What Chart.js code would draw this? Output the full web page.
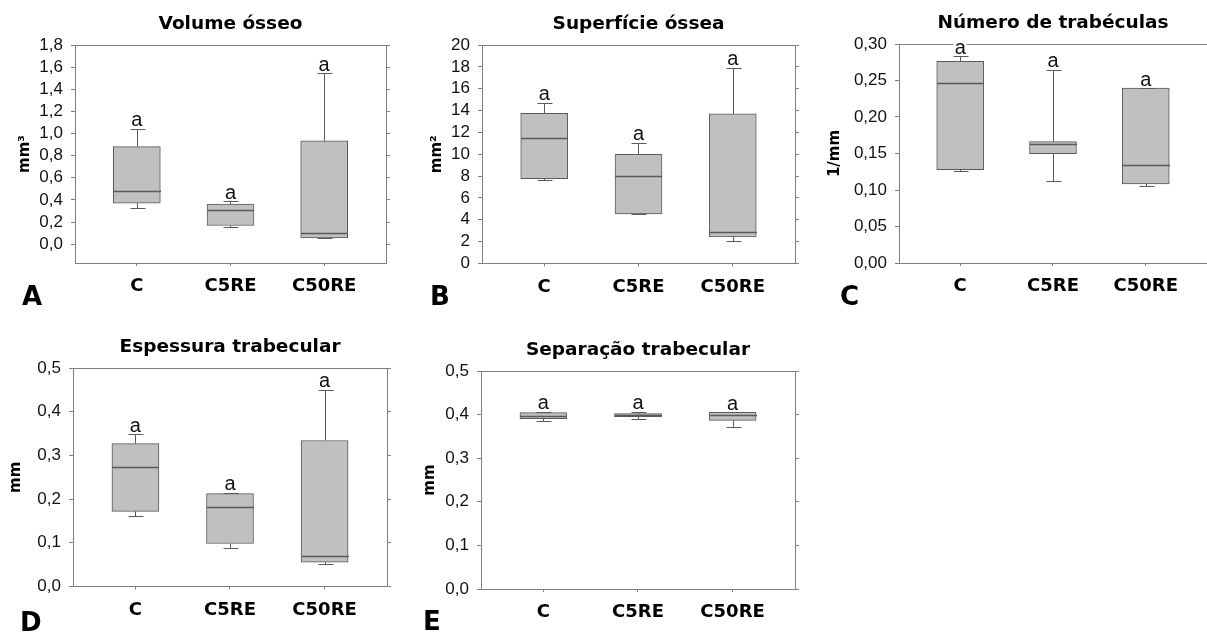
<!DOCTYPE html>
<html>
<head>
<meta charset="utf-8">
<script src="https://cdn.jsdelivr.net/npm/chart.js@4/dist/chart.umd.min.js"></script>
<style>
  html, body { margin: 0; padding: 0; background: #fff; }
  body { position: relative; width: 1207px; height: 633px; overflow: hidden; }
  canvas { position: absolute; }
</style>
</head>
<body>
<canvas id="panelA"></canvas>
<canvas id="panelB"></canvas>
<canvas id="panelC"></canvas>
<canvas id="panelD"></canvas>
<canvas id="panelE"></canvas>
<script>
// Groups on every x axis
const categories = ['C', 'C5RE', 'C50RE'];

// Volume ósseo (mm³): five-number summaries per group
const volumeMin    = [0.329, 0.157, 0.054];
const volumeQ1     = [0.371, 0.169, 0.057];
const volumeMedian = [0.483, 0.311, 0.100];
const volumeQ3     = [0.882, 0.362, 0.933];
const volumeMax    = [1.045, 0.390, 1.543];
const volumeLetters = ['a', 'a', 'a'];
const volumeTicks  = [0, 0.2, 0.4, 0.6, 0.8, 1.0, 1.2, 1.4, 1.6, 1.8];

// Superfície óssea (mm²)
const surfaceMin    = [7.62, 4.51, 2.10];
const surfaceQ1     = [7.77, 4.54, 2.44];
const surfaceMedian = [11.52, 8.02, 2.87];
const surfaceQ3     = [13.75, 10.00, 13.69];
const surfaceMax    = [14.73, 11.04, 17.90];
const surfaceLetters = ['a', 'a', 'a'];
const surfaceTicks  = [0, 2, 4, 6, 8, 10, 12, 14, 16, 18, 20];

// Número de trabéculas (1/mm)
const numberMin    = [0.1256, 0.1119, 0.1055];
const numberQ1     = [0.1279, 0.1498, 0.1082];
const numberMedian = [0.2466, 0.1626, 0.1347];
const numberQ3     = [0.2763, 0.1662, 0.2397];
const numberMax    = [0.2830, 0.2648, 0.2397];
const numberLetters = ['a', 'a', 'a'];
const numberTicks  = [0, 0.05, 0.10, 0.15, 0.20, 0.25, 0.30];

// Espessura trabecular (mm)
const thicknessMin    = [0.162, 0.0877, 0.0526];
const thicknessQ1     = [0.172, 0.0983, 0.0556];
const thicknessMedian = [0.274, 0.181, 0.0694];
const thicknessQ3     = [0.327, 0.2127, 0.334];
const thicknessMax    = [0.348, 0.215, 0.4505];
const thicknessLetters = ['a', 'a', 'a'];
const thicknessTicks  = [0, 0.1, 0.2, 0.3, 0.4, 0.5];

// Separação trabecular (mm)
const separationMin    = [0.3846, 0.3907, 0.3716];
const separationQ1     = [0.3908, 0.3953, 0.3869];
const separationMedian = [0.3976, 0.3990, 0.4000];
const separationQ3     = [0.4046, 0.4021, 0.4053];
const separationMax    = [0.4069, 0.4067, 0.4053];
const separationLetters = ['a', 'a', 'a'];
const separationTicks  = [0, 0.1, 0.2, 0.3, 0.4, 0.5];

const FRAME = '#808080';
const BOX_LINE = '#5a5a5a';
const BOX_FILL = '#c0c0c0';

// Panel layout: canvas box and plot frame in page pixels
const panels = [
  { id: 'panelA', letter: 'A', title: 'Volume ósseo', unit: 'mm³',
    canvas: [0, 0, 400, 310], frame: [75, 45, 386, 263], yMin: -0.17, yMax: 1.8, decimals: 1,
    yTitleX: 25, letterPos: [22, 305],
    stats: [volumeMin, volumeQ1, volumeMedian, volumeQ3, volumeMax], letters: volumeLetters, ticks: volumeTicks },
  { id: 'panelB', letter: 'B', title: 'Superfície óssea', unit: 'mm²',
    canvas: [400, 0, 400, 310], frame: [482, 45, 795, 263.5], yMin: 0, yMax: 20, decimals: 0,
    yTitleX: 37, letterPos: [430, 305],
    stats: [surfaceMin, surfaceQ1, surfaceMedian, surfaceQ3, surfaceMax], letters: surfaceLetters, ticks: surfaceTicks },
  { id: 'panelC', letter: 'C', title: 'Número de trabéculas', unit: '1/mm',
    canvas: [800, 0, 407, 310], frame: [899, 44, 1207, 263], yMin: 0, yMax: 0.30, decimals: 2,
    yTitleX: 35, letterPos: [840, 305],
    stats: [numberMin, numberQ1, numberMedian, numberQ3, numberMax], letters: numberLetters, ticks: numberTicks },
  { id: 'panelD', letter: 'D', title: 'Espessura trabecular', unit: 'mm',
    canvas: [0, 310, 400, 323], frame: [73, 368, 387, 586.5], yMin: 0, yMax: 0.5, decimals: 1,
    yTitleX: 16, letterPos: [20, 631],
    stats: [thicknessMin, thicknessQ1, thicknessMedian, thicknessQ3, thicknessMax], letters: thicknessLetters, ticks: thicknessTicks },
  { id: 'panelE', letter: 'E', title: 'Separação trabecular', unit: 'mm',
    canvas: [400, 310, 400, 323], frame: [481, 371, 795, 589], yMin: 0, yMax: 0.5, decimals: 1,
    yTitleX: 30, letterPos: [423, 630],
    stats: [separationMin, separationQ1, separationMedian, separationQ3, separationMax], letters: separationLetters, ticks: separationTicks }
];

const crisp = v => Math.round(v) + 0.5;

// Whiskers, caps, medians, group letters, panel title and panel letter
const boxDecor = {
  id: 'boxDecor',
  afterDatasetsDraw(chart, args, opts) {
    const { ctx, scales: { x, y } } = chart;
    const [mins, q1s, meds, q3s, maxs] = opts.stats;
    ctx.save();
    ctx.strokeStyle = BOX_LINE;
    ctx.lineWidth = 1;
    const seg = (x1, y1, x2, y2) => { ctx.beginPath(); ctx.moveTo(x1, y1); ctx.lineTo(x2, y2); ctx.stroke(); };
    categories.forEach((c, i) => {
      const px = crisp(x.getPixelForValue(i + 1));
      const pMin = crisp(y.getPixelForValue(mins[i]));
      const pQ1 = y.getPixelForValue(q1s[i]);
      const pMed = crisp(y.getPixelForValue(meds[i]));
      const pQ3 = y.getPixelForValue(q3s[i]);
      const pMax = crisp(y.getPixelForValue(maxs[i]));
      seg(px, pQ3, px, pMax);
      seg(px, pQ1, px, pMin);
      seg(px - 7, pMax, px + 8, pMax);
      seg(px - 7, pMin, px + 8, pMin);
      const half = opts.boxWidth / 2;
      ctx.lineWidth = 1.3;
      seg(px - half, pMed, px + half, pMed);
      ctx.lineWidth = 1;
    });
    // group letters above the upper whisker
    ctx.font = '20px "Liberation Sans", Arial, sans-serif';
    ctx.textAlign = 'center';
    ctx.textBaseline = 'alphabetic';
    opts.letters.forEach((t, i) => {
      const px = x.getPixelForValue(i + 1);
      const base = y.getPixelForValue(maxs[i]) - 2.5;
      const w = ctx.measureText(t).width;
      ctx.fillStyle = '#fff';
      ctx.fillRect(px - w / 2 - 1, base - 11, w + 2, 11);
      ctx.fillStyle = '#111';
      ctx.fillText(t, px, base);
    });
    ctx.restore();
  },
  afterDraw(chart, args, opts) {
    const { ctx, chartArea } = chart;
    ctx.save();
    ctx.fillStyle = '#000';
    ctx.textBaseline = 'alphabetic';
    ctx.font = 'bold 18.5px "DejaVu Sans", Verdana, sans-serif';
    ctx.textAlign = 'center';
    ctx.fillText(opts.title, (chartArea.left + chartArea.right) / 2, chartArea.top - 16);
    ctx.font = 'bold 26px "DejaVu Sans", Verdana, sans-serif';
    ctx.textAlign = 'left';
    ctx.fillText(opts.letter, opts.letterPos[0], opts.letterPos[1]);
    ctx.restore();
  }
};

panels.forEach(p => {
  const [cl, ct, cw, chh] = p.canvas;
  const [fl, ft, fr, fb] = p.frame;
  const el = document.getElementById(p.id);
  el.width = cw; el.height = chh;
  el.style.left = cl + 'px'; el.style.top = ct + 'px';
  el.style.width = cw + 'px'; el.style.height = chh + 'px';

  const [mins, q1s, meds, q3s, maxs] = p.stats;
  const leftW = fl - cl, rightW = Math.max(0, cl + cw - fr), bottomH = ct + chh - fb, topPad = ft - ct;
  const fmt = v => Number(v).toFixed(p.decimals).replace('.', ',');
  const tickList = s => { s.ticks = p.ticks.map(v => ({ value: v })); };
  const xRange = { min: 0.34, max: 3.66, offset: false };
  const titleFont = { family: '"DejaVu Sans", Verdana, sans-serif', weight: 'bold', size: 15, lineHeight: 1.2 };

  new Chart(el, {
    type: 'bar',
    data: {
      datasets: [{
        data: categories.map((c, i) => ({ x: i + 1, y: [q1s[i], q3s[i]] })),
        backgroundColor: BOX_FILL,
        borderColor: BOX_LINE,
        borderWidth: 1,
        borderSkipped: false,
        barThickness: 47
      }]
    },
    options: {
      responsive: false,
      animation: false,
      devicePixelRatio: 1,
      layout: { padding: { top: topPad, left: 0, right: 0, bottom: 0 } },
      plugins: {
        legend: { display: false },
        tooltip: { enabled: false },
        boxDecor: { stats: p.stats, letters: p.letters, title: p.title, letter: p.letter,
                    letterPos: [p.letterPos[0] - cl, p.letterPos[1] - ct], boxWidth: 47 }
      },
      scales: {
        x: {
          type: 'linear', position: 'bottom', ...xRange,
          afterBuildTicks: s => { s.ticks = categories.map((c, i) => ({ value: i + 1 })); },
          afterFit: s => { s.height = bottomH; },
          ticks: {
            callback: v => categories[v - 1],
            autoSkip: false, maxRotation: 0, padding: 10, color: '#000',
            font: { family: '"DejaVu Sans", Verdana, sans-serif', weight: 'bold', size: 18 }
          },
          grid: { display: true, offset: false, drawOnChartArea: false, drawTicks: true, tickLength: 3, color: FRAME },
          border: { display: true, color: FRAME }
        },
        xTop: {
          type: 'linear', position: 'top', ...xRange,
          afterFit: s => { s.height = 0; },
          ticks: { display: false },
          grid: { display: false, offset: false },
          border: { display: true, color: FRAME }
        },
        y: {
          type: 'linear', position: 'left', min: p.yMin, max: p.yMax,
          afterBuildTicks: tickList,
          afterFit: s => { s.width = leftW; },
          ticks: {
            callback: v => fmt(v), autoSkip: false, padding: 8, color: '#111',
            font: { family: '"Liberation Sans", Arial, sans-serif', size: 17 }
          },
          grid: { display: true, drawOnChartArea: false, drawTicks: true, tickLength: 4, color: FRAME },
          border: { display: true, color: FRAME },
          title: { display: true, text: p.unit, color: '#000', font: titleFont,
                   padding: { top: p.yTitleX - 9, bottom: 0 } }
        },
        yRight: {
          type: 'linear', position: 'right', min: p.yMin, max: p.yMax,
          afterBuildTicks: tickList,
          afterFit: s => { s.width = rightW; },
          ticks: { display: false },
          grid: { display: true, drawOnChartArea: false, drawTicks: true, tickLength: 4, color: FRAME },
          border: { display: true, color: FRAME }
        }
      }
    },
    plugins: [boxDecor]
  });
});
</script>
</body>
</html>
